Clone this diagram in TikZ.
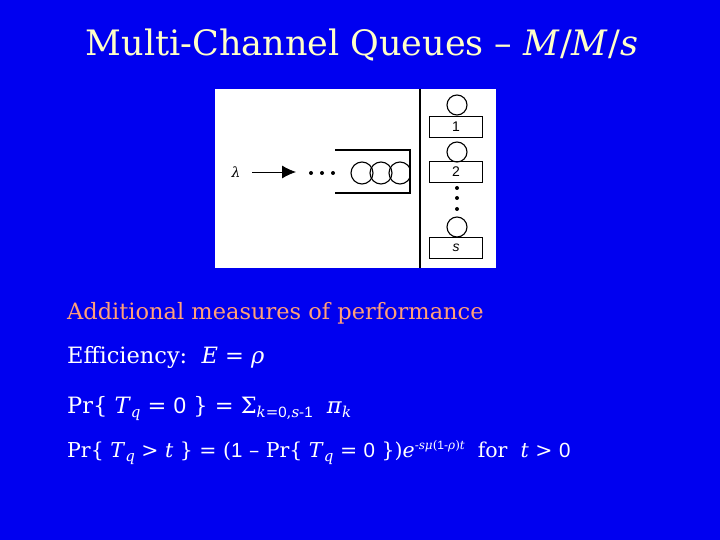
\documentclass[tikz,border=0pt]{standalone}
\usepackage{fontspec}
\usetikzlibrary{arrows.meta}
\setmainfont{DejaVu Serif}
\newfontfamily\ar{Liberation Sans}
\definecolor{bg}{RGB}{0,0,240}
\definecolor{ttl}{RGB}{255,255,200}
\definecolor{pink}{RGB}{255,160,120}
\newcommand\lo[1]{\raisebox{-4pt}{\fontsize{15}{15}\selectfont #1}}
\begin{document}
\begin{tikzpicture}[x=1pt,y=-1pt,
  srv/.style={draw,line width=1.1pt,circle,minimum size=20pt,inner sep=0pt},
  lab/.style={draw,line width=1.1pt,minimum width=53pt,minimum height=21pt,inner sep=0pt,font=\ar\fontsize{14}{14}\selectfont},
  txt/.style={anchor=base west,inner sep=0pt,text=white,font=\fontsize{22.5}{24}\selectfont}]
\fill[bg] (0,0) rectangle (720,540);
\useasboundingbox (0,0) rectangle (720,540);
\node[anchor=base,text=ttl,font=\fontsize{35}{36}\selectfont] (title) at (362,56) {Multi-Channel Queues -- \textit{M}/\textit{M}/\textit{s}};
\fill[white] (215,89) rectangle (496,268);
\draw[line width=1.6pt] (420,89) -- (420,268);
% queue
\draw[line width=1.6pt] (335,150) -- (410,150) -- (410,193) -- (335,193);
\begin{scope}
\clip (330,140) rectangle (409,200);
\node[srv,minimum size=22pt] (q1) at (362,173) {};
\node[srv,minimum size=22pt] (q2) at (381,173) {};
\node[srv,minimum size=22pt] (q3) at (400,173) {};
\end{scope}
\node[font=\itshape\fontsize{14}{14}\selectfont] (lam) at (236,172) {λ};
\coordinate (as) at (252,172);
\coordinate (ae) at (296,172);
\draw[line width=0.8pt,-{Latex[length=14pt,width=13pt]}] (as) -- (ae);
\foreach \x in {311,322,333} \fill (\x,173) circle (2);
% servers
\node[srv] (c1) at (457,105) {};
\node[lab] (b1) at (456,127) {1};
\node[srv] (c2) at (457,152) {};
\node[lab] (b2) at (456,172) {2};
\foreach \y in {188,198,209} \fill (457,\y) circle (2);
\node[srv] (c3) at (457,227) {};
\node[lab] (b3) at (456,248) {\textit{s}};
% text
\node[txt,text=pink] (t1) at (67,319) {Additional measures of performance};
\node[txt] (t2) at (67,363) {Efficiency:\ \ \textit{E} = \textit{ρ}};
\node[txt] (t3) at (67,413) {Pr\{ \textit{T}\lo{\textit{q}} = {\ar 0} \} = Σ\lo{\textit{k}={\ar 0},\textit{s}-{\ar 1}}\ \ \textit{π}\lo{\textit{k}}};
\node[txt,font=\fontsize{20.5}{24}\selectfont] (t4) at (67,457) {Pr\{ \textit{T}\lo{\textit{q}} > \textit{t} \} = ({\ar 1} -- Pr\{ \textit{T}\lo{\textit{q}} = {\ar 0} \})\textit{e}\raisebox{8pt}{\fontsize{12}{12}\selectfont -\textit{sμ}({\ar 1}-\textit{ρ})\textit{t}}\ \ for\ \ \textit{t} > {\ar 0}};
\end{tikzpicture}
\end{document}
